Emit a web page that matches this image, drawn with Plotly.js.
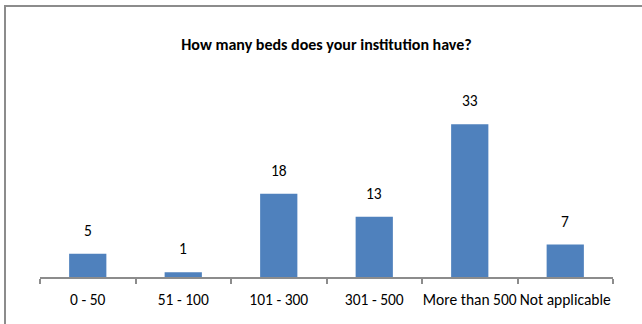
<!DOCTYPE html>
<html><head><meta charset="utf-8">
<script src="https://cdn.plot.ly/plotly-3.0.1.min.js"></script>
<style>
html,body{margin:0;padding:0;background:#fff;}
#wrap{position:relative;width:642px;height:324px;overflow:hidden;}
#frame{position:absolute;left:4px;top:5px;width:700px;height:400px;border-left:2px solid #8c8c8c;border-top:2px solid #8c8c8c;box-sizing:border-box;pointer-events:none;}
#chart{position:absolute;left:0;top:0;width:642px;height:324px;}
</style></head>
<body><div id="wrap"><div id="chart"></div><div id="frame"></div></div>
<script>
const categories = ["0 - 50", "51 - 100", "101 - 300", "301 - 500", "More than 500", "Not applicable"];
const counts = [5, 1, 18, 13, 33, 7];
const chartTitle = "How many beds does your institution have?";

const font = "Calibri, Carlito, 'Liberation Sans', Arial, sans-serif";
const annotations = categories.map((c, i) => ({
  x: c, y: counts[i], xref: 'x', yref: 'y', text: String(counts[i]),
  showarrow: false, yanchor: 'bottom', yshift: 12,
  font: {family: font, size: 15.5, color: '#000'}
}));

Plotly.newPlot('chart', [{
  type: 'bar', x: categories, y: counts,
  marker: {color: '#4F81BD'}, hoverinfo: 'none'
}], {
  width: 642, height: 324,
  margin: {l: 40, r: 29, t: 115, b: 47},
  paper_bgcolor: '#fff', plot_bgcolor: '#fff',
  bargap: 0.61,
  showlegend: false,
  title: {text: '<b>' + chartTitle + '</b>', x: 0.5, xref: 'paper', y: 1 - 44/324, yref: 'container', yanchor: 'middle',
          font: {family: font, size: 16, color: '#000'}},
  xaxis: {
    type: 'category', showline: true, linecolor: '#8c8c8c', linewidth: 2,
    ticks: 'outside', tickson: 'boundaries', ticklen: 5, tickcolor: '#8c8c8c', tickwidth: 2,
    tickangle: 0, ticklabelstandoff: 7, showgrid: false, zeroline: false,
    tickfont: {family: font, size: 15.5, color: '#000'}
  },
  yaxis: {range: [0, 35], visible: false, showgrid: false, zeroline: false},
  annotations: annotations
}, {displayModeBar: false, staticPlot: true});
</script></body></html>
